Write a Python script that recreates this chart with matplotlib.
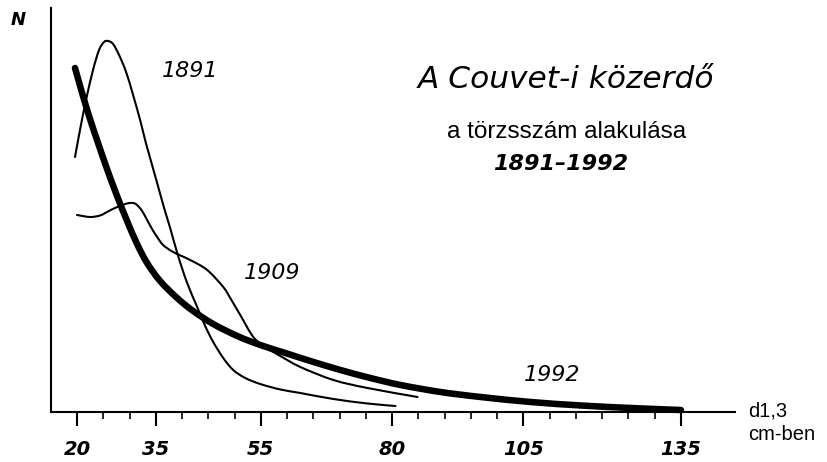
import matplotlib
matplotlib.use('Agg')
import matplotlib.pyplot as plt
from matplotlib.path import Path
from matplotlib.patches import PathPatch

# d1,3 (cm) and stem number N (relative units)
d_1891 = [19.62, 20.57, 21.72, 23.05, 24.20, 25.15, 25.91, 26.87, 28.01,
          29.35, 30.68, 32.02, 32.97, 33.92, 35.26, 36.59, 37.74, 39.26,
          40.98, 42.89, 44.41, 45.94, 47.85, 49.75, 52.04, 54.90, 58.72,
          62.53, 68.83, 75.31, 80.65]
n_1891 = [63.75, 70.5, 78.0, 85.5, 90.5, 92.5, 92.75, 92.0, 89.25,
          85.0, 79.25, 73.0, 68.0, 63.5, 57.25, 51.0, 46.0, 39.0,
          32.25, 26.25, 21.5, 17.5, 13.5, 10.5, 8.5, 7.0, 5.63,
          4.75, 3.25, 2.13, 1.5]

d_1909 = [20.0, 22.48, 24.39, 25.72, 27.63, 29.54, 30.68, 31.44, 32.40,
          33.35, 34.30, 35.26, 36.40, 38.31, 41.55, 44.79, 47.85, 49.18,
          51.09, 53.57, 55.86, 58.72, 62.53, 68.83, 75.31, 84.85]
n_1909 = [49.25, 48.75, 49.13, 50.0, 51.25, 52.13, 52.25, 51.75, 50.25,
          48.0, 45.75, 43.75, 41.75, 40.0, 38.0, 35.5, 31.25, 28.5,
          24.25, 18.75, 16.25, 14.0, 11.25, 8.0, 6.0, 3.75]

d_1992 = [19.62, 21.14, 22.48, 24.01, 25.72, 27.63, 29.54, 31.44, 33.35,
          35.83, 39.07, 42.12, 45.94, 50.52, 54.90, 59.67, 64.44, 70.16,
          75.88, 81.61, 89.23, 96.86, 106.40, 115.94, 125.47, 135.0]
n_1992 = [86.0, 79.0, 73.25, 67.25, 60.75, 54.0, 47.75, 42.0, 37.25,
          32.75, 28.5, 25.25, 22.0, 19.0, 16.75, 14.75, 12.75, 10.5,
          8.5, 6.75, 5.0, 3.75, 2.5, 1.63, 1.0, 0.5]

tick_major = [20, 35, 55, 80, 105, 135]
tick_labels = ['20', '35', '55', '80', '105', '135']

W, H = 827, 462
fig = plt.figure(figsize=(W / 100, H / 100), dpi=100)
ax = fig.add_axes([51 / W, 50 / H, (735 - 51) / W, (412 - 8) / H])


def smooth_curve(ax, xs, ys, lw):
    # hand-drawn look: Bezier path going through every read point
    pts = list(zip(xs, ys))
    verts = [pts[0]]
    codes = [Path.MOVETO]
    for i in range(len(pts) - 1):
        p0 = pts[max(i - 1, 0)]
        p1 = pts[i]
        p2 = pts[i + 1]
        p3 = pts[min(i + 2, len(pts) - 1)]
        c1 = (p1[0] + (p2[0] - p0[0]) / 6, p1[1] + (p2[1] - p0[1]) / 6)
        c2 = (p2[0] - (p3[0] - p1[0]) / 6, p2[1] - (p3[1] - p1[1]) / 6)
        verts += [c1, c2, p2]
        codes += [Path.CURVE4] * 3
    patch = PathPatch(Path(verts, codes), fill=False, edgecolor='black',
                      lw=lw, capstyle='round', joinstyle='round',
                      clip_on=False)
    ax.add_patch(patch)


smooth_curve(ax, d_1891, n_1891, 1.5)
smooth_curve(ax, d_1909, n_1909, 1.5)
smooth_curve(ax, d_1992, n_1992, 4.7)

ax.set_xlim(15.05, 145.3)
ax.set_ylim(0, 101)

for s in ['top', 'right']:
    ax.spines[s].set_visible(False)
for s in ['left', 'bottom']:
    ax.spines[s].set_linewidth(1.5)

ax.set_yticks([])
ax.set_xticks(tick_major)
ax.set_xticklabels(tick_labels, family='DejaVu Sans', style='italic',
                   weight='bold', size=14)
ax.set_xticks([v for v in range(25, 135, 5) if v not in tick_major], minor=True)
ax.tick_params(axis='x', which='major', direction='out', length=10,
               width=1.5, pad=10)
ax.tick_params(axis='x', which='minor', direction='out', length=5, width=1.2)


def ftext(x, y, s, **kw):
    fig.text(x / W, 1 - y / H, s, ha='center', va='center', **kw)


ftext(190, 71, '1891', family='DejaVu Sans', style='italic', size=16)
ftext(272, 273, '1909', family='DejaVu Sans', style='italic', size=16)
ftext(552, 375, '1992', family='DejaVu Sans', style='italic', size=16)
ftext(18, 20, 'N', family='DejaVu Sans', style='italic', weight='bold', size=13)

ftext(566, 80, 'A Couvet-i közerdő', family='DejaVu Sans', style='italic',
      size=22.5)
ftext(567, 132, 'a törzsszám alakulása', family='Liberation Sans', size=17.5)
ftext(561, 164, '1891–1992', family='DejaVu Sans', style='italic',
      weight='bold', size=16)

fig.text(748 / W, 1 - 411 / H, 'd1,3', family='Liberation Sans', size=14.5,
         ha='left', va='center')
fig.text(748 / W, 1 - 435 / H, 'cm-ben', family='Liberation Sans', size=14.5,
         ha='left', va='center')

fig.savefig('out.png', dpi=100)
